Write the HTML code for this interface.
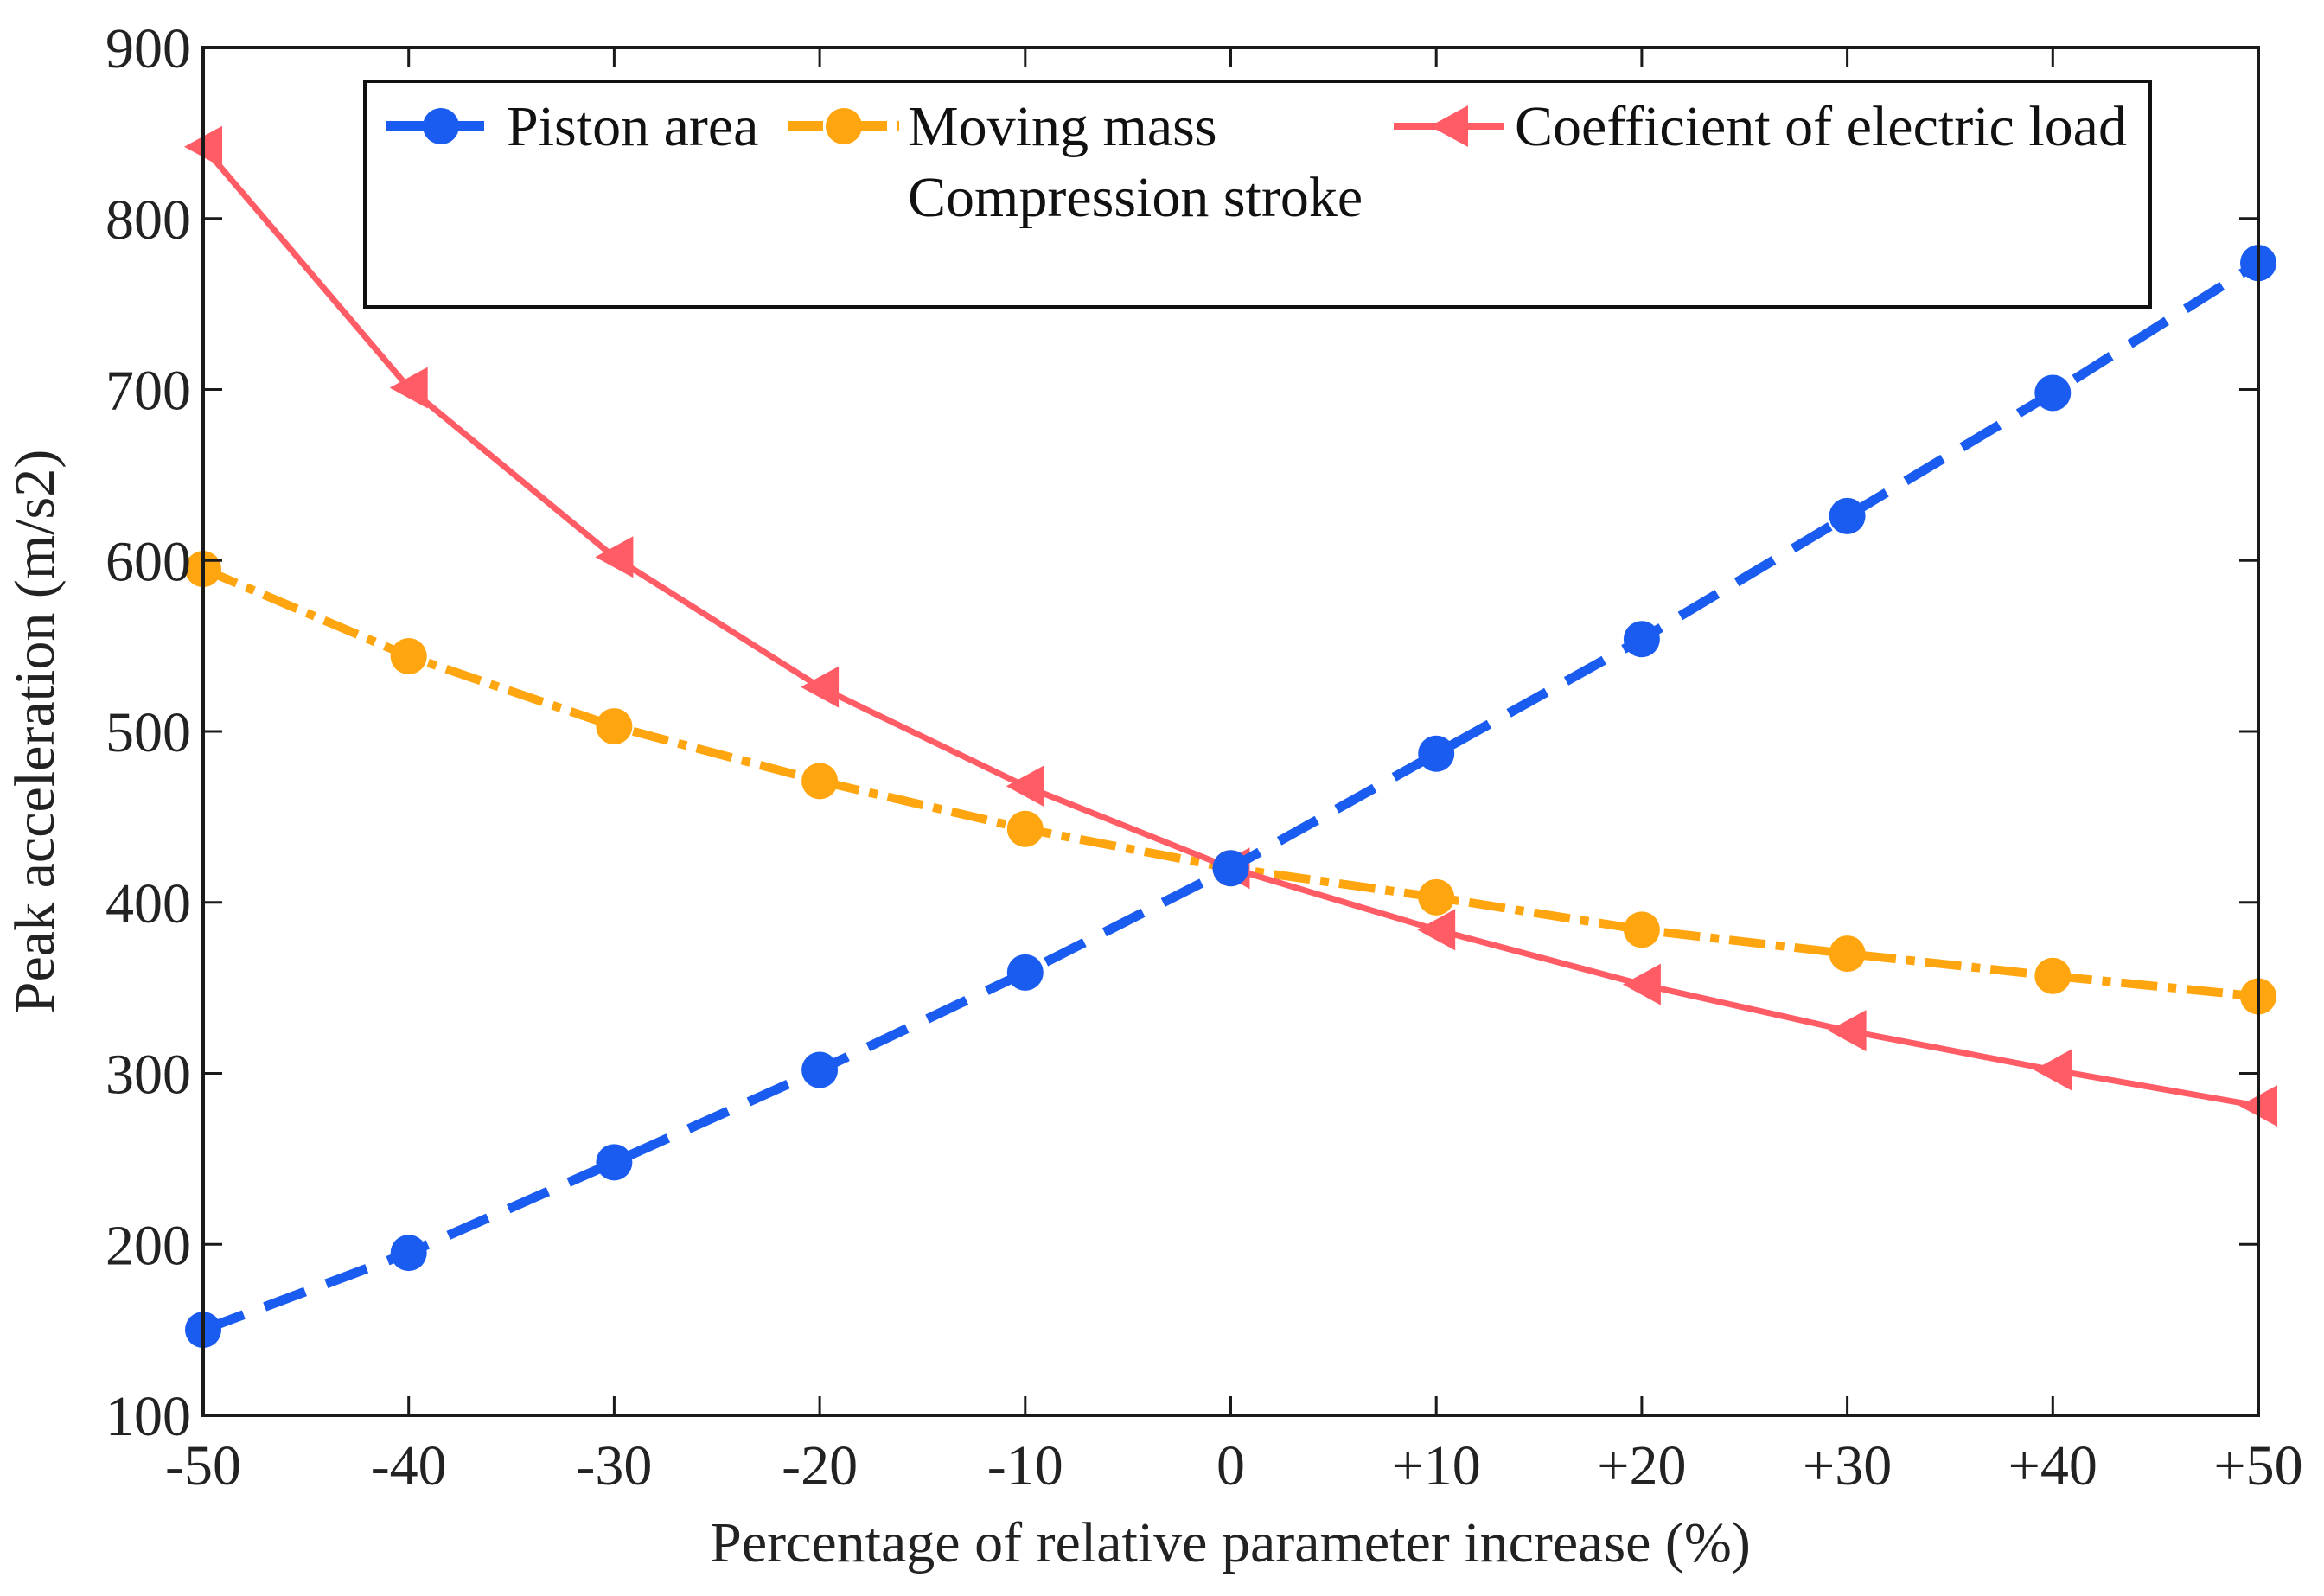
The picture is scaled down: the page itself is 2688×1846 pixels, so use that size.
<!DOCTYPE html>
<html><head><meta charset="utf-8"><style>
html,body{margin:0;padding:0;background:#fff;}
svg{display:block;font-family:"Liberation Serif",serif;}
</style></head><body>
<svg id="chart" width="2688" height="1846" viewBox="0 0 2688 1846" xmlns="http://www.w3.org/2000/svg">
<g id="grid"></g>
<g id="series"></g>
<rect x="235" y="55" width="2377" height="1582" fill="none" stroke="#1a1a1a" stroke-width="4"/>
<g id="ticks"></g>
<text x="1423" y="1806" font-size="66" text-anchor="middle" fill="#222">Percentage of relative parameter increase (%)</text>
<text transform="translate(62,846) rotate(-90)" font-size="66" text-anchor="middle" fill="#222">Peak acceleration (m/s2)</text>
<g>
<rect x="422" y="94" width="2065" height="261" fill="#fff" stroke="#111" stroke-width="4"/>
<g>
<line x1="446" y1="146" x2="574" y2="146" stroke="#1a5cf0" stroke-width="12" stroke-dasharray="48,18"/>
<circle cx="510" cy="146" r="21" fill="#1a5cf0"/>
<text x="586" y="168" font-size="66" fill="#111">Piston area</text>
</g>
<g>
<line x1="912" y1="146" x2="1040" y2="146" stroke="#ffa50f" stroke-width="12" stroke-dasharray="40,12,10,12"/>
<circle cx="976" cy="146" r="21" fill="#ffa50f"/>
<text x="1050" y="168" font-size="66" fill="#111">Moving mass</text>
<text x="1050" y="250" font-size="66" fill="#111">Compression stroke</text>
</g>
<g>
<line x1="1612" y1="146" x2="1740" y2="146" stroke="#ff5c66" stroke-width="8"/>
<polygon points="1654,146 1698,122 1698,170" fill="#ff5c66"/>
<text x="1752" y="168" font-size="66" fill="#111">Coefficient of electric load</text>
</g>
</g>
</svg>
<script>
const categories = ["-50","-40","-30","-20","-10","0","+10","+20","+30","+40","+50"];
const pistonArea = [150,195,248,302,359,420,487,554,626,698,774];
const movingMass = [595,544,503,471,443,420,403,384,370,357,345];
const electricLoad = [842,701,602,526,468,420,384,352,325,302,281];
const yTicks = [100,200,300,400,500,600,700,800,900];
const L=235,R=2612,T=55,B=1637,YMIN=100,YMAX=900;
const NS="http://www.w3.org/2000/svg";
function xs(i){return L+(R-L)*i/(categories.length-1);}
function ys(v){return B-(v-YMIN)/(YMAX-YMIN)*(B-T);}
function mk(tag,attrs,parent){const e=document.createElementNS(NS,tag);for(const k in attrs)e.setAttribute(k,attrs[k]);parent.appendChild(e);return e;}
const ticks=document.getElementById('ticks');
categories.forEach((c,i)=>{
  const x=xs(i);
  const t1=mk('line',{x1:x,y1:B,x2:x,y2:B-22,stroke:'#1a1a1a','stroke-width':3},ticks);
  
  
  const t2=mk('line',{x1:x,y1:T,x2:x,y2:T+22,stroke:'#1a1a1a','stroke-width':3},ticks);
  
  
  const tx=mk('text',{x:x,y:B+80,'font-size':66,'text-anchor':'middle',fill:'#222'},ticks);
  tx.textContent=c;
  
  
});
yTicks.forEach(v=>{
  const y=ys(v);
  const t1=mk('line',{x1:L,y1:y,x2:L+22,y2:y,stroke:'#1a1a1a','stroke-width':3},ticks);
  
  
  const t2=mk('line',{x1:R,y1:y,x2:R-22,y2:y,stroke:'#1a1a1a','stroke-width':3},ticks);
  
  
  const tx=mk('text',{x:L-14,y:y+23,'font-size':66,'text-anchor':'end',fill:'#222'},ticks);
  tx.textContent=v;
  
  
});
const series=document.getElementById('series');
function draw(vals,color,width,dash,marker,name){
  const g=mk('g',{},series);
  
  
  const pts=vals.map((v,i)=>xs(i)+','+ys(v)).join(' ');
  const pl=mk('polyline',{points:pts,fill:'none',stroke:color,'stroke-width':width,'stroke-dasharray':dash},g);
  
  
  vals.forEach((v,i)=>{
    const x=xs(i),y=ys(v);let m;
    if(marker==='circle'){m=mk('circle',{cx:x,cy:y,r:21,fill:color},g);}
    else{m=mk('polygon',{points:(x-22)+','+y+' '+(x+22)+','+(y-24)+' '+(x+22)+','+(y+24),fill:color},g);}
    
    
  });
}
draw(movingMass,'#ffa50f',10,'42,12,10,12','circle','moving-mass-series');
draw(electricLoad,'#ff5c66',7,'none','triangle','electric-load-series');
draw(pistonArea,'#1a5cf0',11,'50,26','circle','piston-area-series');
</script>
</body></html>
